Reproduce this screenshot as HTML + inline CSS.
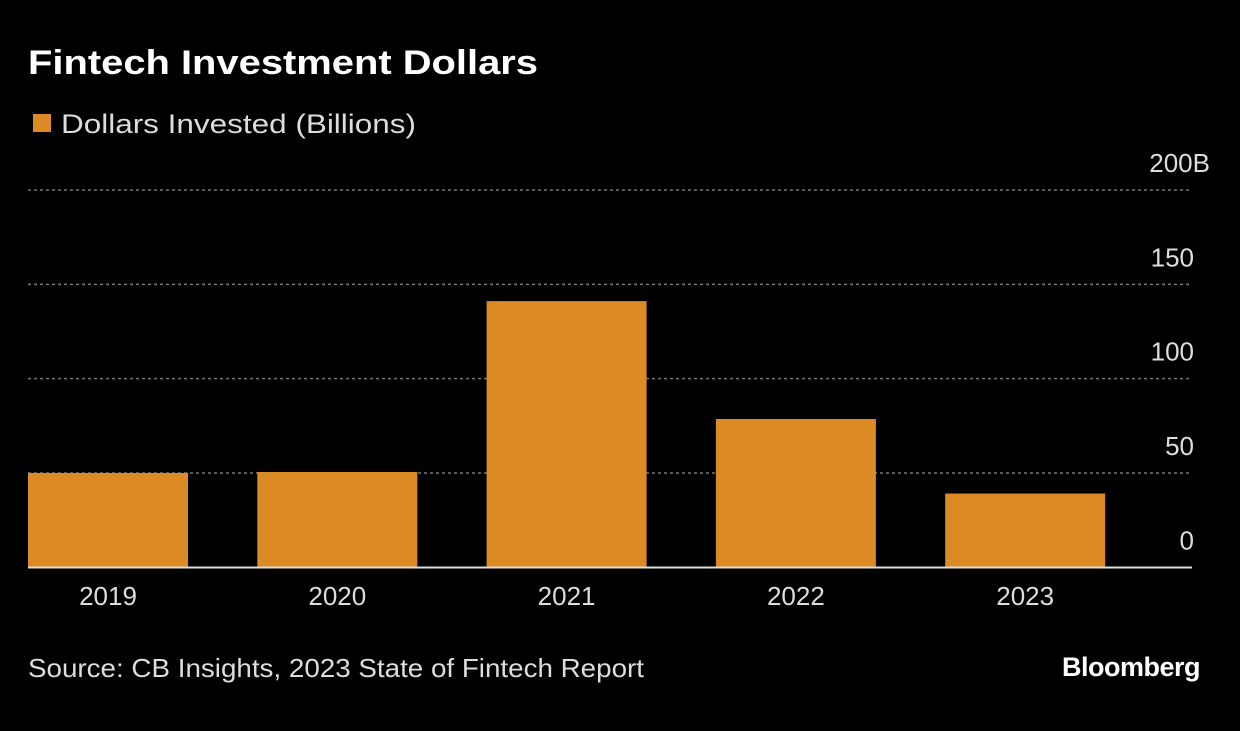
<!DOCTYPE html>
<html><head><meta charset="utf-8"><style>
body{margin:0;background:#000;width:1240px;height:726px;overflow:hidden;font-family:"Liberation Sans",sans-serif;color:#ddd}
</style></head><body>
<svg width="1240" height="726" id="svg">
<text x="28" y="74" fill="#fff" font-size="34" font-weight="bold" textLength="510" lengthAdjust="spacingAndGlyphs">Fintech Investment Dollars</text>
<rect x="33" y="114" width="18" height="18" fill="#dc8a24"/>
<text x="61" y="133" fill="#ddd" font-size="27" textLength="355" lengthAdjust="spacingAndGlyphs">Dollars Invested (Billions)</text>
<g id="grid"></g><g id="bars"></g>
<line x1="28" x2="1192" y1="567.5" y2="567.5" stroke="#ddd" stroke-width="2"/>
<text x="28" y="677" fill="#ddd" font-size="26" textLength="616" lengthAdjust="spacingAndGlyphs">Source: CB Insights, 2023 State of Fintech Report</text>
<text x="1200" y="676" fill="#fff" font-size="27" font-weight="bold" text-anchor="end" letter-spacing="-0.5">Bloomberg</text>
</svg>
<script>
const categories=["2019","2020","2021","2022","2023"];
const values=[50.0,50.5,141.1,78.6,39.1];
const ticks=[0,50,100,150,200];
const tickLabels=["0","50","100","150","200B"];
const ns="http://www.w3.org/2000/svg";
const y=v=>567.3-v*(567.3-190)/200;
const x0=28,band=229.3,bw=160;
const g=document.getElementById('grid'),b=document.getElementById('bars');
ticks.forEach((t,i)=>{
 if(t>0){const l=document.createElementNS(ns,'line');
 l.setAttribute('x1',28);l.setAttribute('x2',1192);l.setAttribute('y1',y(t));l.setAttribute('y2',y(t));
 l.setAttribute('stroke','#777');l.setAttribute('stroke-width','1.5');l.setAttribute('stroke-dasharray','3,3');
 
 
 g.appendChild(l);}
 const tx=document.createElementNS(ns,'text');
 tx.setAttribute('x',t===200?1210:1194);tx.setAttribute('y',y(t)-18);tx.setAttribute('text-anchor','end');
 tx.setAttribute('fill','#ddd');tx.setAttribute('font-size','26');tx.textContent=tickLabels[i];
 
 
 g.appendChild(tx);
});
categories.forEach((c,i)=>{
 const r=document.createElementNS(ns,'rect');
 const xx=x0+i*band;
 r.setAttribute('x',xx);r.setAttribute('width',bw);r.setAttribute('y',y(values[i]));r.setAttribute('height',y(0)-y(values[i]));
 r.setAttribute('fill','#dc8a24');
 
 
 b.appendChild(r);
 const t=document.createElementNS(ns,'text');
 t.setAttribute('x',xx+bw/2);t.setAttribute('y',605);t.setAttribute('text-anchor','middle');
 t.setAttribute('fill','#ddd');t.setAttribute('font-size','26');t.textContent=c;
 
 
 b.appendChild(t);
});
</script>
</body></html>
